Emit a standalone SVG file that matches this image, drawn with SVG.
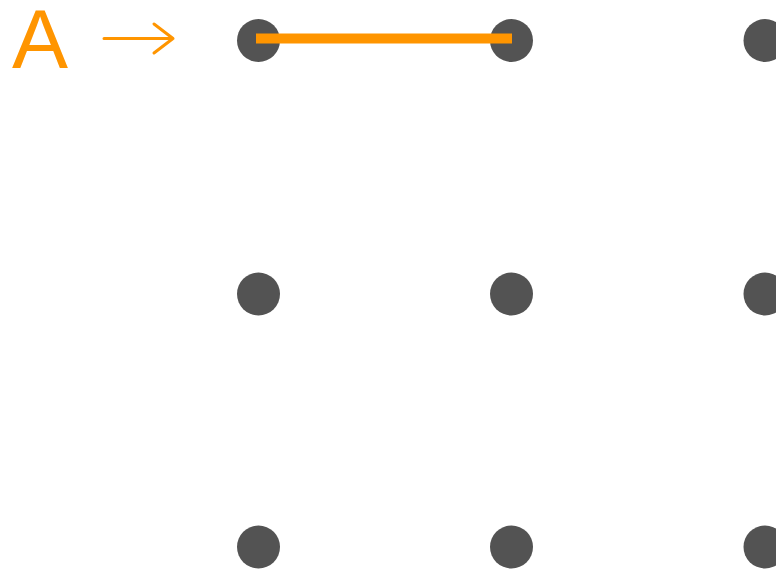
<svg xmlns="http://www.w3.org/2000/svg" width="776" height="569" viewBox="0 0 776 569">
<style>
.dot{fill:#535353}
.lbl{font-family:"Liberation Sans",Arial,sans-serif;font-size:84px;fill:#ff9500}
.edge{stroke:#ff9500;stroke-width:10;fill:none}
.arr{stroke:#ff9500;stroke-width:3;fill:none;stroke-linecap:round;stroke-linejoin:round}
</style>
<rect width="776" height="569" fill="#ffffff"/>
<g id="label"><text class="lbl" x="12" y="68">A</text>
<path class="arr" d="M104 38.5H173M154 24L173 38.5L154 53"/></g>
<g id="n11"><circle class="dot" cx="258.5" cy="40.5" r="21.5"/></g>
<g id="n12"><circle class="dot" cx="511.5" cy="40.5" r="21.5"/></g>
<g id="n13"><circle class="dot" cx="765" cy="40.5" r="21.5"/></g>
<g id="n21"><circle class="dot" cx="258.5" cy="294" r="21.5"/></g>
<g id="n22"><circle class="dot" cx="511.5" cy="294" r="21.5"/></g>
<g id="n23"><circle class="dot" cx="765" cy="294" r="21.5"/></g>
<g id="n31"><circle class="dot" cx="258.5" cy="547" r="21.5"/></g>
<g id="n32"><circle class="dot" cx="511.5" cy="547" r="21.5"/></g>
<g id="n33"><circle class="dot" cx="765" cy="547" r="21.5"/></g>
<g id="connectors"><line class="edge" x1="256" y1="38.5" x2="512" y2="38.5"/></g>
</svg>
